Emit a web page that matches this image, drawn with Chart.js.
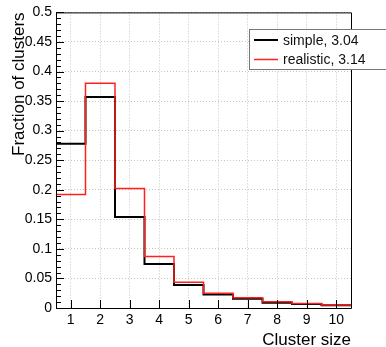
<!DOCTYPE html>
<html>
<head>
<meta charset="utf-8">
<script src="https://cdn.jsdelivr.net/npm/chart.js@4"></script>
<style>
  html, body { margin: 0; padding: 0; background: #fff; }
  #wrap { width: 386px; height: 347px; }
</style>
</head>
<body>
<div id="wrap"><canvas id="GraficoClusters" width="386" height="347"></canvas></div>
<script>
// dados
var clusterSizes = [1, 2, 3, 4, 5, 6, 7, 8, 9, 10];
var simpleValues = [0.278, 0.357, 0.154, 0.0745, 0.039, 0.023, 0.0155, 0.009, 0.0068, 0.0045];
var realisticValues = [0.192, 0.380, 0.202, 0.087, 0.0435, 0.025, 0.0175, 0.0105, 0.0075, 0.005];
var seriesLabels = ['simple, 3.04', 'realistic, 3.14'];
var yTicks = [0, 0.05, 0.1, 0.15, 0.2, 0.25, 0.3, 0.35, 0.4, 0.45, 0.5];
var yTickLabels = ['0', '0.05', '0.1', '0.15', '0.2', '0.25', '0.3', '0.35', '0.4', '0.45', '0.5'];
var xTitle = 'Cluster size';
var yTitle = 'Fraction of clusters';

var fonte = '"Liberation Sans", Arial, Helvetica, sans-serif';

// histograma em degraus: um ponto por borda de bin
function degraus(valores) {
    var pts = [];
    for (var i = 0; i < clusterSizes.length; i++) {
        pts.push({ x: clusterSizes[i] - 0.5, y: valores[i] });
    }
    pts.push({ x: clusterSizes[clusterSizes.length - 1] + 0.5, y: valores[valores.length - 1] });
    return pts;
}

// moldura, ticks internos, titulos e legenda estilo ROOT
var estiloRoot = {
    id: 'estiloRoot',
    afterDraw: function (chart) {
        var ctx = chart.ctx;
        var a = chart.chartArea;
        var sx = chart.scales.x, sy = chart.scales.y;
        ctx.save();
        ctx.strokeStyle = '#000';
        ctx.lineWidth = 1;
        ctx.beginPath();
        ctx.rect(a.left + 0.5, a.top + 0.5, a.right - a.left, a.bottom - a.top);
        ctx.stroke();

        // ticks do eixo y
        ctx.beginPath();
        for (var v = 0; v <= 50; v++) {
            var py = Math.round(sy.getPixelForValue(v / 100)) + 0.5;
            var len = (v % 5 === 0) ? 8 : 5;
            ctx.moveTo(a.left, py);
            ctx.lineTo(a.left + len, py);
        }
        // ticks do eixo x
        clusterSizes.forEach(function (c) {
            var px = Math.round(sx.getPixelForValue(c)) + 0.5;
            ctx.moveTo(px, a.bottom);
            ctx.lineTo(px, a.bottom - 8);
        });
        ctx.stroke();

        // titulos
        ctx.fillStyle = '#000';
        ctx.font = '17px ' + fonte;
        ctx.textAlign = 'right';
        ctx.textBaseline = 'alphabetic';
        ctx.fillText(xTitle, a.right, 345);
        ctx.translate(24, a.top);
        ctx.rotate(-Math.PI / 2);
        ctx.fillText(yTitle, 0, 0);
        ctx.restore();

        // legenda
        ctx.save();
        ctx.fillStyle = '#fff';
        ctx.fillRect(249, 29, 140, 40);
        ctx.strokeStyle = '#777';
        ctx.lineWidth = 1;
        ctx.strokeRect(249.5, 29.5, 140, 40);
        ctx.font = '14px ' + fonte;
        ctx.textAlign = 'left';
        ctx.textBaseline = 'middle';
        chart.data.datasets.forEach(function (ds, i) {
            var ly = 40 + i * 19.5;
            ctx.strokeStyle = ds.borderColor;
            ctx.lineWidth = ds.borderWidth;
            ctx.beginPath();
            ctx.moveTo(254, ly);
            ctx.lineTo(278, ly);
            ctx.stroke();
            ctx.fillStyle = '#111';
            ctx.fillText(ds.label, 283, ly + 1);
        });
        ctx.restore();
    }
};

var ctx = document.getElementById('GraficoClusters').getContext('2d');

var grafico = new Chart(ctx, {
    type: 'line',
    data: {
        datasets: [{
            label: seriesLabels[0],
            data: degraus(simpleValues),
            borderColor: '#000000',
            borderWidth: 2,
            stepped: 'before',
            pointRadius: 0,
            fill: false,
            order: 2
        }, {
            label: seriesLabels[1],
            data: degraus(realisticValues),
            borderColor: '#ff2020',
            borderWidth: 1.5,
            stepped: 'before',
            pointRadius: 0,
            fill: false,
            order: 1
        }]
    },
    options: {
        responsive: false,
        animation: false,
        layout: { padding: { top: 12, right: 35, left: 0, bottom: 0 } },
        plugins: {
            legend: { display: false },
            tooltip: { enabled: false }
        },
        scales: {
            x: {
                type: 'linear',
                min: 0.5,
                max: 10.5,
                afterBuildTicks: function (s) {
                    s.ticks = clusterSizes.map(function (c) { return { value: c }; });
                },
                afterFit: function (s) { s.height = 39; },
                grid: { color: '#c4c4c4', lineWidth: 1, drawTicks: false },
                border: { display: false, dash: [1, 2] },
                ticks: {
                    color: '#000',
                    font: { family: fonte, size: 14 },
                    padding: 4,
                    maxRotation: 0,
                    autoSkip: false,
                    callback: function (v) { return String(v); }
                }
            },
            y: {
                type: 'linear',
                min: 0,
                max: 0.5,
                afterBuildTicks: function (s) {
                    s.ticks = yTicks.map(function (t) { return { value: t }; });
                },
                afterFit: function (s) { s.width = 56; },
                grid: { color: '#c4c4c4', lineWidth: 1, drawTicks: false },
                border: { display: false, dash: [1, 2] },
                ticks: {
                    color: '#000',
                    font: { family: fonte, size: 14 },
                    padding: 4,
                    autoSkip: false,
                    callback: function (v) {
                        var i = yTicks.indexOf(v);
                        return i >= 0 ? yTickLabels[i] : '';
                    }
                }
            }
        }
    },
    plugins: [estiloRoot]
});
</script>
</body>
</html>
